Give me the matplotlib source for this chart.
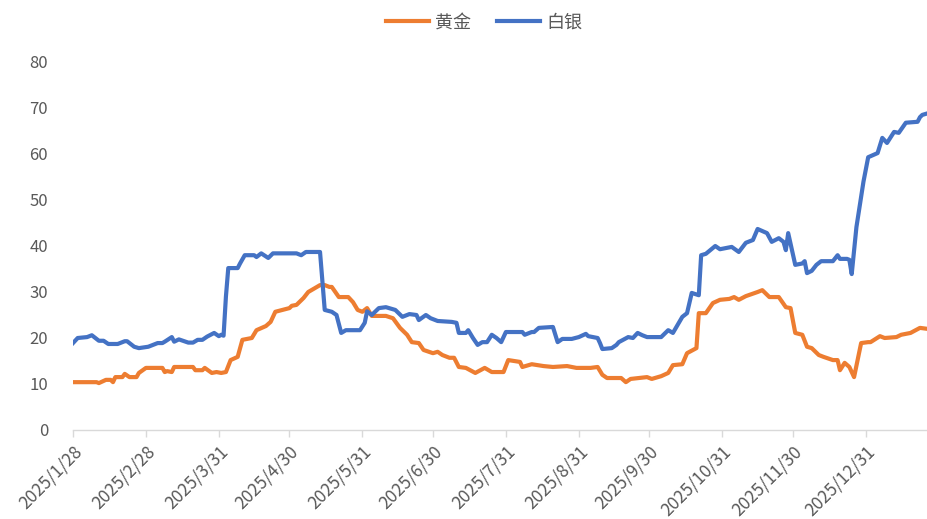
import numpy as np
import pandas as pd
import matplotlib
matplotlib.use("Agg")
import matplotlib.pyplot as plt
import matplotlib.dates as mdates

plt.rcParams['font.family'] = ['Noto Sans CJK SC', 'DejaVu Sans']

start_date = "2025-01-28"
end_offset = 363

# day offsets from start_date and values
gold_days = [0, 10, 11, 14, 16, 17, 18, 21, 22, 24, 27, 28, 31, 38, 39, 40, 42, 43, 51, 52,
             55, 56, 59, 61, 63, 65, 67, 70, 72, 76, 78, 82, 84, 86, 89, 92, 93, 95, 98, 100,
             103, 105, 107, 109, 110, 113, 117, 119, 121, 123, 125, 127, 133, 136, 139, 142, 144, 147, 149, 153,
             155, 157, 160, 162, 164, 167, 171, 175, 178, 183, 185, 190, 191, 195, 200, 204, 210, 214, 220, 223,
             225, 227, 233, 235, 237, 244, 246, 250, 253, 255, 259, 261, 265, 266, 269, 272, 275, 279, 281, 283,
             286, 291, 293, 296, 300, 303, 305, 307, 310, 312, 314, 317, 319, 323, 325, 326, 328, 330, 332, 335,
             338, 339, 343, 345, 350, 352, 356, 360, 363]
gold_vals = [10.4, 10.4, 10.2, 10.9, 10.9, 10.4, 11.5, 11.5, 12.2, 11.5, 11.5, 12.4, 13.5, 13.5, 12.6, 12.8, 12.6, 13.7, 13.7, 13.0,
             13.0, 13.5, 12.4, 12.6, 12.4, 12.6, 15.2, 15.9, 19.6, 20.0, 21.7, 22.6, 23.5, 25.7, 26.1, 26.5, 27.0, 27.2, 28.7, 30.0,
             30.9, 31.5, 31.5, 31.1, 31.1, 28.9, 28.9, 27.8, 26.1, 25.7, 26.5, 24.8, 24.8, 24.3, 22.2, 20.7, 19.1, 18.9, 17.4, 16.7,
             17.0, 16.3, 15.7, 15.7, 13.7, 13.5, 12.4, 13.5, 12.6, 12.6, 15.2, 14.8, 13.7, 14.3, 13.9, 13.7, 13.9, 13.5, 13.5, 13.7,
             12.0, 11.3, 11.3, 10.4, 11.1, 11.5, 11.1, 11.7, 12.4, 14.1, 14.3, 16.7, 17.8, 25.4, 25.4, 27.6, 28.3, 28.5, 28.9, 28.3,
             29.1, 30.0, 30.4, 28.9, 28.9, 26.7, 26.5, 21.1, 20.7, 18.1, 17.8, 16.3, 15.9, 15.2, 15.2, 13.0, 14.6, 13.7, 11.5, 18.9,
             19.1, 19.1, 20.4, 20.0, 20.2, 20.7, 21.1, 22.2, 22.0]

silver_days = [0, 2, 6, 8, 11, 13, 15, 19, 22, 23, 26, 28, 32, 36, 38, 39, 42, 43, 45, 49,
               51, 53, 55, 57, 60, 62, 63, 64, 65, 66, 70, 71, 73, 77, 78, 80, 83, 85, 95, 97,
               99, 105, 107, 110, 112, 114, 116, 122, 124, 125, 127, 130, 133, 137, 140, 143, 146, 147, 150, 152,
               155, 161, 163, 164, 167, 168, 170, 172, 174, 176, 178, 180, 182, 184, 191, 192, 195, 196, 198, 204,
               206, 208, 212, 215, 218, 219, 223, 224, 225, 229, 231, 232, 236, 238, 240, 242, 244, 250, 253, 255,
               259, 261, 263, 266, 267, 269, 273, 275, 280, 283, 286, 289, 291, 295, 297, 300, 302, 303, 304, 307,
               310, 311, 312, 314, 316, 318, 323, 325, 326, 329, 330, 331, 333, 336, 338, 342, 344, 346, 349, 351,
               354, 359, 360, 361, 363]
silver_vals = [18.9, 20.0, 20.2, 20.6, 19.4, 19.4, 18.7, 18.7, 19.3, 19.3, 18.1, 17.8, 18.1, 18.9, 18.9, 19.2, 20.2, 19.2, 19.7, 19.0,
               19.0, 19.6, 19.6, 20.3, 21.1, 20.4, 20.7, 20.5, 29.0, 35.2, 35.2, 36.2, 38.0, 38.0, 37.6, 38.4, 37.4, 38.4, 38.4, 38.0,
               38.7, 38.7, 26.1, 25.7, 25.0, 21.1, 21.7, 21.7, 23.3, 25.8, 25.0, 26.5, 26.7, 26.1, 24.6, 25.2, 25.0, 23.9, 25.0, 24.3,
               23.7, 23.5, 23.3, 21.1, 21.1, 21.7, 20.0, 18.5, 19.1, 19.1, 20.7, 20.0, 19.1, 21.3, 21.3, 20.7, 21.3, 21.3, 22.2, 22.4,
               19.1, 19.8, 19.8, 20.2, 20.9, 20.4, 20.0, 18.9, 17.6, 17.8, 18.5, 19.1, 20.2, 20.0, 21.1, 20.6, 20.2, 20.2, 21.7, 21.1,
               24.6, 25.4, 29.8, 29.3, 38.0, 38.3, 40.0, 39.3, 39.8, 38.7, 40.7, 41.3, 43.7, 42.8, 40.9, 41.7, 40.9, 39.1, 42.8, 35.9,
               36.2, 36.7, 34.1, 34.6, 35.9, 36.7, 36.7, 38.0, 37.2, 37.2, 37.0, 33.9, 44.1, 54.0, 59.3, 60.2, 63.5, 62.4, 64.8, 64.6,
               66.8, 67.0, 68.0, 68.5, 68.8]

tick_dates = ["2025-01-28", "2025-02-28", "2025-03-31", "2025-04-30", "2025-05-31", "2025-06-30",
              "2025-07-31", "2025-08-31", "2025-09-30", "2025-10-31", "2025-11-30", "2025-12-31"]
tick_labels = ["2025/1/28", "2025/2/28", "2025/3/31", "2025/4/30", "2025/5/31", "2025/6/30",
               "2025/7/31", "2025/8/31", "2025/9/30", "2025/10/31", "2025/11/30", "2025/12/31"]
y_ticks = [0, 10, 20, 30, 40, 50, 60, 70, 80]
series_names = ["黄金", "白银"]

base = pd.Timestamp(start_date)
gold_x = base + pd.to_timedelta(gold_days, unit="D")
silver_x = base + pd.to_timedelta(silver_days, unit="D")

fig = plt.figure(figsize=(9.27, 5.19), dpi=100)
ax = fig.add_axes([73/927, 89/519, 1 - 73/927, (430-62)/519])

ax.plot(gold_x, gold_vals, color="#ED7D31", lw=3.0, label=series_names[0], solid_joinstyle="round")
ax.plot(silver_x, silver_vals, color="#4472C4", lw=3.0, label=series_names[1], solid_joinstyle="round")

ax.set_xlim(base, base + pd.Timedelta(days=end_offset))
ax.set_ylim(0, 80)
ax.set_yticks(y_ticks)
ax.set_xticks(pd.to_datetime(tick_dates))
ax.set_xticklabels(tick_labels, rotation=45, ha="right", va="top", rotation_mode="anchor")

for s in ["top", "right", "left"]:
    ax.spines[s].set_visible(False)
ax.spines["bottom"].set_color("#D9D9D9")
ax.spines["bottom"].set_linewidth(1.0)
ax.tick_params(axis="x", colors="#D9D9D9", length=5, width=1.0, labelcolor="#595959",
               labelsize=12.5, pad=4)
ax.tick_params(axis="y", length=0, labelcolor="#595959", labelsize=12, pad=18)

leg = fig.legend(loc="upper center", bbox_to_anchor=(0.522, 1.006), ncol=2, frameon=False,
                 fontsize=13, handlelength=2.4, columnspacing=1.4, handletextpad=0.35,
                 labelcolor="#595959")

fig.savefig("out.png", dpi=100)
